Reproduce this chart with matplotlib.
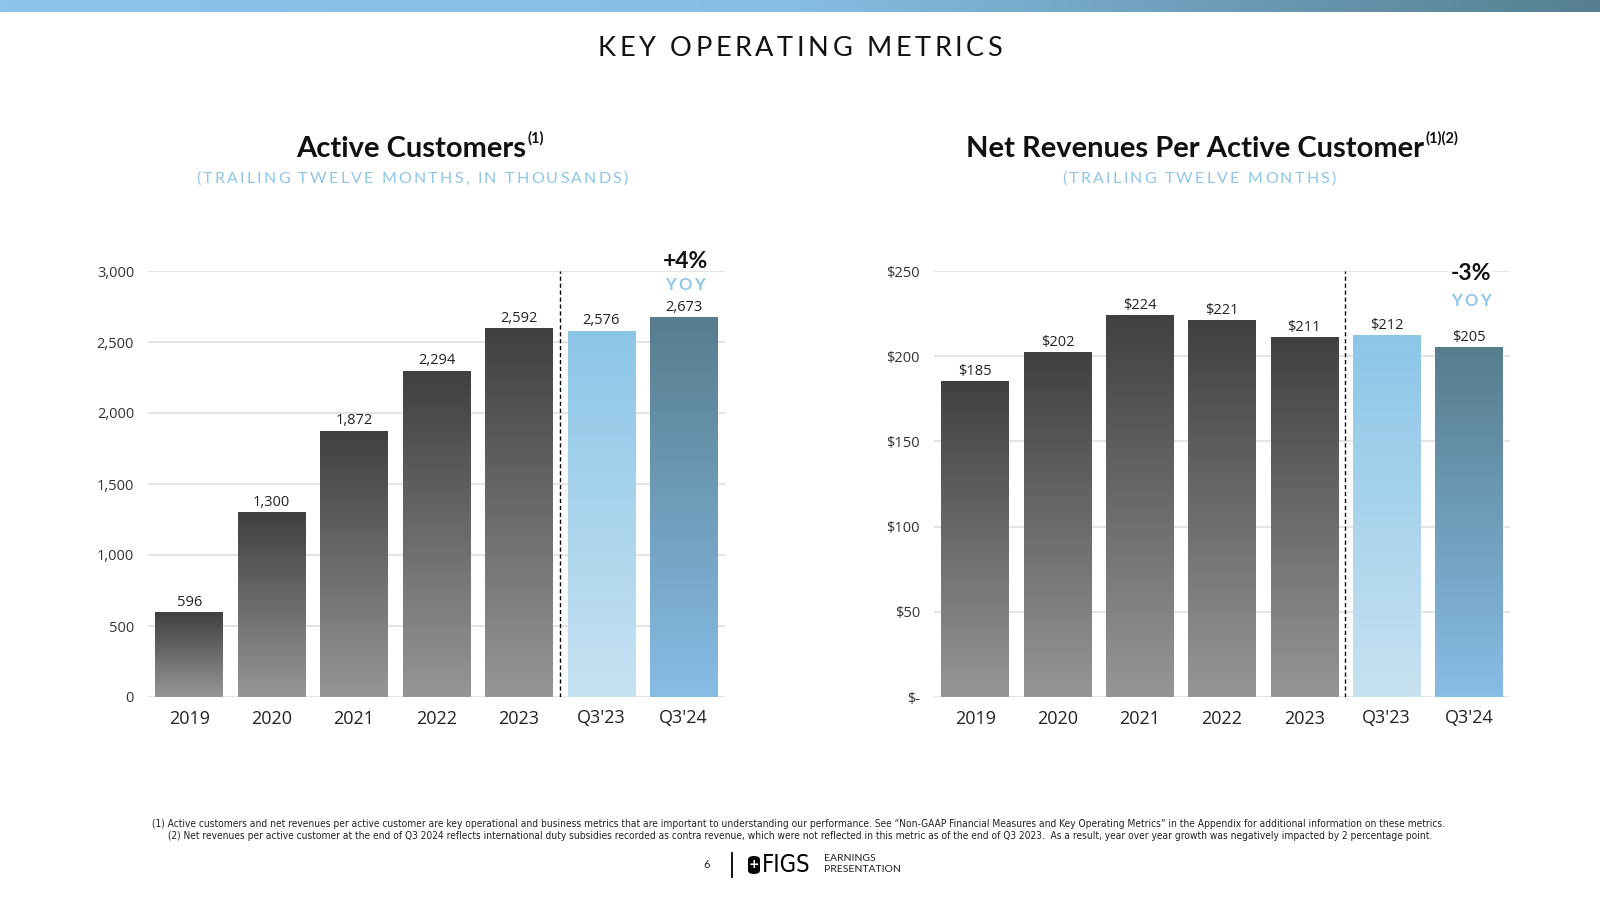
import numpy as np
import matplotlib
matplotlib.use("Agg")
import matplotlib.pyplot as plt
from matplotlib.colors import LinearSegmentedColormap
from matplotlib.font_manager import FontProperties
from matplotlib.patches import FancyBboxPatch

# data
categories = ["2019", "2020", "2021", "2022", "2023", "Q3'23", "Q3'24"]
active_customers = [596, 1300, 1872, 2294, 2592, 2576, 2673]
net_rev_per_customer = [185, 202, 224, 221, 211, 212, 205]
customer_ticks = [0, 500, 1000, 1500, 2000, 2500, 3000]
customer_tick_labels = ["0", "500", "1,000", "1,500", "2,000", "2,500", "3,000"]
rev_ticks = [0, 50, 100, 150, 200, 250]
rev_tick_labels = ["$-", "$50", "$100", "$150", "$200", "$250"]
customer_yoy = "+4%"
rev_yoy = "-3%"

W, H = 1600, 900
FONT = "Lato"
NUMFONT = "Open Sans"
BLUE = "#8fc5ea"

# gradients per bar (top colour, bottom colour)
GRAY = ("#404040", "#969696")
LIGHT = ("#8cc6e7", "#c7e2f2")
DARK = ("#577d8e", "#88bde6")
bar_styles = [GRAY] * 5 + [LIGHT, DARK]

fig = plt.figure(figsize=(16, 9), dpi=100)


def fx(px):
    return px / W


def fy(py):
    return 1 - py / H


def spaced(x, y, s, track, size, weight="normal", color="black", family=FONT):
    """draw text centred at pixel (x, y) with extra letter spacing"""
    fp = FontProperties(family=family, size=size, weight=weight)
    r = fig.canvas.get_renderer()
    widths = []
    for ch in s:
        if ch == " ":
            w2 = r.get_text_width_height_descent("a a", fp, ismath=False)[0]
            w1 = r.get_text_width_height_descent("aa", fp, ismath=False)[0]
            widths.append(w2 - w1)
        else:
            widths.append(r.get_text_width_height_descent(ch, fp, ismath=False)[0])
    total = sum(widths) + track * (len(s) - 1)
    cx = x - total / 2
    for ch, w in zip(s, widths):
        if ch != " ":
            fig.text(fx(cx), fy(y), ch, fontproperties=fp, color=color,
                     ha="left", va="center")
        cx += w + track


def titled(x, y, s, sup, size):
    t = fig.text(fx(x), fy(y), s, ha="center", va="baseline", fontsize=size,
                 fontweight="bold", family=FONT, color="#111111")
    bb = t.get_window_extent(fig.canvas.get_renderer())
    fig.text(bb.x1 / W + 2 / W, (bb.y1 + 5) / H, sup, ha="left", va="top",
             fontsize=size * 0.5, fontweight="bold", family=FONT, color="#111111")


def panel(ax, values, ticks, tick_labels, labels, ymax):
    x = np.arange(len(categories))
    bars = ax.bar(x, values, width=0.82, color="none", zorder=3)
    grad = np.linspace(0, 1, 256).reshape(-1, 1)
    for b, (top, bot) in zip(bars, bar_styles):
        cmap = LinearSegmentedColormap.from_list("g", [bot, top])
        ax.imshow(grad, cmap=cmap, origin="lower", aspect="auto", zorder=3,
                  extent=(b.get_x(), b.get_x() + b.get_width(), 0, b.get_height()))
    ax.bar_label(bars, labels=labels, padding=2, fontsize=10.5, color="#222222",
                 family=NUMFONT)
    ax.axvline(4.5, color="black", lw=1, ls=(0, (3, 2)), zorder=4)
    ax.set_xlim(-0.5, len(categories) - 0.5)
    ax.set_ylim(0, ymax)
    ax.set_yticks(ticks)
    ax.set_yticklabels(tick_labels)
    ax.set_xticks(x)
    ax.set_xticklabels(categories)
    ax.yaxis.grid(True, color="#e2e2e2", lw=1.3)
    ax.set_axisbelow(True)
    for sp in ax.spines.values():
        sp.set_visible(False)
    ax.tick_params(axis="y", length=0, pad=10, labelsize=10.5, labelcolor="#333333")
    ax.tick_params(axis="x", length=0, pad=9, labelsize=13, labelcolor="#222222")
    for lab in ax.get_xticklabels() + ax.get_yticklabels():
        lab.set_family(NUMFONT)


# top band
band = fig.add_axes([0, fy(12.5), 1, 12.5 / H])
band.imshow(np.linspace(0, 1, 256).reshape(1, -1), aspect="auto",
            cmap=LinearSegmentedColormap.from_list("b", ["#8bc5eb", "#86bde3", "#567f91"]))
band.axis("off")

spaced(800, 48, "KEY OPERATING METRICS", 3.6, 19.5, weight="normal", color="#111111")

ax1 = fig.add_axes([fx(148), fy(697), fx(725) - fx(148), fy(271) - fy(697)])
panel(ax1, active_customers, customer_ticks, customer_tick_labels,
      [f"{v:,}" for v in active_customers], 3000)

ax2 = fig.add_axes([fx(934), fy(697), fx(1510) - fx(934), fy(271) - fy(697)])
panel(ax2, net_rev_per_customer, rev_ticks, rev_tick_labels,
      [f"${v}" for v in net_rev_per_customer], 250)

titled(411, 157, "Active Customers", "(1)", 21)
titled(1195, 157, "Net Revenues Per Active Customer", "(1)(2)", 21)
spaced(412, 179, "(TRAILING TWELVE MONTHS, IN THOUSANDS)", 2.2, 11.5, color=BLUE)
spaced(1199, 179, "(TRAILING TWELVE MONTHS)", 2.2, 11.5, color=BLUE)

# yoy callouts
fig.text(fx(685), fy(261), customer_yoy, ha="center", va="center", fontsize=16.5,
         fontweight="bold", family=FONT, color="#111111")
spaced(685, 285, "YOY", 2.5, 12, weight="bold", color=BLUE)
fig.text(fx(1471), fy(273), rev_yoy, ha="center", va="center", fontsize=16.5,
         fontweight="bold", family=FONT, color="#111111",
         bbox=dict(fc="white", ec="none", pad=1))
spaced(1471, 301, "YOY", 2.5, 12, weight="bold", color=BLUE)

# footnotes
note1 = ("(1) Active customers and net revenues per active customer are key operational and business "
         "metrics that are important to understanding our performance. See \u201cNon-GAAP Financial "
         "Measures and Key Operating Metrics\u201d in the Appendix for additional information on these metrics.")
note2 = ("(2) Net revenues per active customer at the end of Q3 2024 reflects international duty subsidies "
         "recorded as contra revenue, which were not reflected in this metric as of the end of Q3 2023.  "
         "As a result, year over year growth was negatively impacted by 2 percentage point.")
fig.text(fx(798), fy(824), note1, ha="center", va="center", fontsize=7.25,
         family="DejaVu Sans", stretch="condensed", color="#222222")
fig.text(fx(800), fy(836), note2, ha="center", va="center", fontsize=7.25,
         family="DejaVu Sans", stretch="condensed", color="#222222")

# page footer
fig.text(fx(707), fy(864), "6", ha="center", va="center", fontsize=8, family=FONT,
         color="#222222")
fig.add_artist(plt.Line2D([fx(732), fx(732)], [fy(853), fy(877)], color="black", lw=1.3))
fig.add_artist(FancyBboxPatch((fx(748), fy(874)), 12 / W, 18 / H,
                              boxstyle="round,pad=0,rounding_size=0.004",
                              fc="black", ec="none", transform=fig.transFigure))
fig.text(fx(754), fy(864.5), "+", ha="center", va="center", fontsize=9,
         fontweight="bold", color="white", family="DejaVu Sans")
fig.text(fx(762), fy(865), "FIGS", ha="left", va="center", fontsize=17,
         family="DejaVu Sans", stretch="condensed", color="black")
fig.text(fx(824), fy(858.5), "EARNINGS", ha="left", va="center", fontsize=7.5,
         family=FONT, color="#222222")
fig.text(fx(824), fy(869.5), "PRESENTATION", ha="left", va="center", fontsize=7.5,
         family=FONT, color="#222222")

fig.savefig("out.png", dpi=100)
